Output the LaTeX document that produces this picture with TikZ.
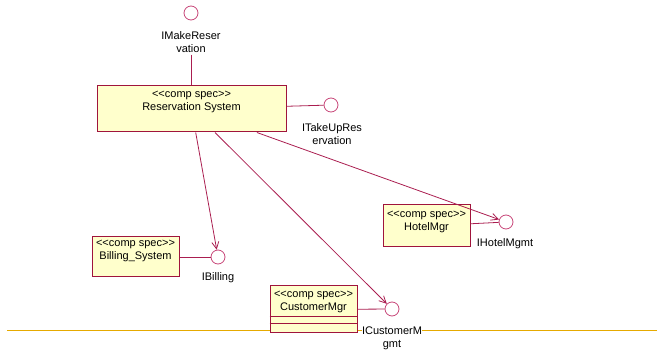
\documentclass[tikz,border=0pt]{standalone}
\usepackage{fontspec}
\setmainfont[Ligatures=NoCommon]{Liberation Sans}
\usetikzlibrary{arrows.meta}
\definecolor{boxline}{RGB}{160,20,60}
\definecolor{boxfill}{RGB}{255,255,204}
\definecolor{conn}{RGB}{170,30,80}
\definecolor{iface}{RGB}{200,70,120}
\definecolor{sep}{RGB}{230,170,0}
\newcommand{\stereo}{<{}<comp spec>{}>}
\begin{document}
\begin{tikzpicture}[x=1pt,y=-1pt,
  every node/.style={font=\fontsize{11}{13}\selectfont, text=black},
  compbox/.style={draw=boxline, fill=boxfill, line width=1pt, inner sep=0pt},
  comptext/.style={align=center, inner sep=0pt},
  iball/.style={circle, draw=iface, fill=white, line width=0.8pt, minimum size=14pt, inner sep=0pt},
  ilabel/.style={align=center, inner sep=1pt},
  wire/.style={draw=conn, line width=0.8pt},
  dep/.style={draw=conn, line width=0.8pt, -{Straight Barb[length=7pt,width=7pt]}}
]
\useasboundingbox (0,0) rectangle (657,350);
% separator line
\coordinate (sepL) at (7,331);
\coordinate (sepR) at (657,331);
\draw[sep, line width=1pt] (sepL) -- (sepR);

% components
\node[compbox, minimum width=189pt, minimum height=46pt] (res) at (191.5,109) {};
\node[comptext] (rest) at (191.5,102) {\stereo\\Reservation System};

\node[compbox, minimum width=87pt, minimum height=40pt] (bill) at (135.5,257) {};
\node[comptext] (billt) at (135.5,251) {\stereo\\Billing\_System};

\node[compbox, minimum width=87pt, minimum height=42pt] (hotel) at (426.5,226) {};
\node[comptext] (hotelt) at (426.5,222) {\stereo\\HotelMgr};

\node[compbox, minimum width=87pt, minimum height=47pt] (cust) at (313.5,309.5) {};
\node[comptext] (custt) at (313.5,301.5) {\stereo\\CustomerMgr};
\draw[boxline, line width=1pt] ([yshift=17pt]cust.south west) -- ([yshift=17pt]cust.south east);
\draw[boxline, line width=1pt] ([yshift=10pt]cust.south west) -- ([yshift=10pt]cust.south east);

% interfaces
\node[iball] (imr) at (191,13) {};
\node[ilabel] (imrl) at (191,42) {IMakeReser\\vation};
\node[iball] (itr) at (331,105) {};
\node[ilabel] (itrl) at (332,134.5) {ITakeUpRes\\ervation};
\node[iball] (ib) at (218,257) {};
\node[ilabel] (ibl) at (218,278) {IBilling};
\node[iball] (ihm) at (506,222) {};
\node[ilabel] (ihml) at (505,244) {IHotelMgmt};
\node[iball] (icm) at (392,309) {};

% realizations
\draw[wire] ([yshift=-1pt]imrl.south) -- (res.north -| imrl.south);
\draw[wire] (res) -- (itr);
\draw[wire] (bill) -- (ib);
\draw[wire] (hotel) -- (ihm);
\draw[wire] (cust) -- (icm);

% dependencies
\draw[dep] (res) -- (ib);
\draw[dep] (res) -- (icm);
\draw[dep] (res) -- (ihm);

\node[ilabel, fill=white, inner sep=0.5pt] (icml) at (392,338.5) {ICustomerM\\gmt};
\end{tikzpicture}
\end{document}
